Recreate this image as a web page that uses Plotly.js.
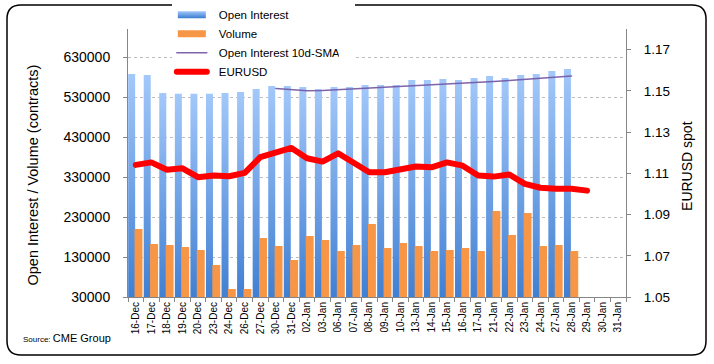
<!DOCTYPE html>
<html>
<head>
<meta charset="utf-8">
<script src="https://cdn.plot.ly/plotly-3.0.1.min.js"></script>
<style>
  html, body { margin: 0; padding: 0; background: #fff; }
  #chart { width: 714px; height: 364px; }
</style>
</head>
<body>
<div id="chart"></div>
<script>
// ---- data ----
const dates = ['16-Dec','17-Dec','18-Dec','19-Dec','20-Dec','23-Dec','24-Dec','26-Dec','27-Dec','30-Dec','31-Dec',
  '02-Jan','03-Jan','06-Jan','07-Jan','08-Jan','09-Jan','10-Jan','13-Jan','14-Jan','15-Jan','16-Jan','17-Jan',
  '21-Jan','22-Jan','23-Jan','24-Jan','27-Jan','28-Jan','29-Jan','30-Jan','31-Jan'];

const openInterest = [587500, 585000, 540000, 538000, 538000, 538000, 540000, 542500, 550000, 557500, 557500,
  555000, 550000, 555000, 555000, 560000, 560000, 560000, 572500, 572500, 575000, 572500, 577500,
  582500, 577500, 585000, 587500, 595000, 600000];

const volume = [200000, 162500, 160000, 155000, 147500, 110000, 50000, 50000, 177500, 157500, 122500,
  182500, 172500, 145000, 160000, 212500, 152500, 165000, 157500, 145000, 147500, 152500, 145000,
  245000, 185000, 240000, 157500, 160000, 145000];

const smaDates = dates.slice(9, 29);
const oiSma10 = [551500, 548500, 545500, 546500, 548500, 550000, 552000, 554000, 556000, 558000,
  560000, 561500, 563000, 566000, 568500, 571000, 573500, 576000, 579500, 582500];

const eurusd = [1.1141, 1.1153, 1.1117, 1.1124, 1.1081, 1.1089, 1.1086, 1.1102, 1.1178, 1.1202, 1.1223,
  1.1173, 1.1157, 1.1197, 1.1153, 1.1105, 1.1105, 1.1121, 1.1133, 1.1129, 1.1153, 1.1137, 1.1089,
  1.1084, 1.1094, 1.1049, 1.1030, 1.1025, 1.1025, 1.1016];

// ---- traces ----
const data = [
  {
    type: 'bar', name: 'Open Interest',
    x: dates.slice(0, openInterest.length), y: openInterest,
    marker: { color: '#78A8EA' }, offset: -0.49, width: 0.45,
    hoverinfo: 'skip'
  },
  {
    type: 'bar', name: 'Volume',
    x: dates.slice(0, volume.length), y: volume,
    marker: { color: '#F79646' }, offset: -0.08, width: 0.51,
    hoverinfo: 'skip'
  },
  {
    type: 'scatter', mode: 'lines', name: 'Open Interest 10d-SMA',
    x: smaDates, y: oiSma10,
    line: { color: 'rgba(118,92,168,0.95)', width: 1.5 },
    hoverinfo: 'skip'
  },
  {
    type: 'scatter', mode: 'lines', name: 'EURUSD',
    x: dates.slice(0, eurusd.length), y: eurusd, yaxis: 'y2',
    line: { color: '#FF0000', width: 6 },
    hoverinfo: 'skip'
  }
];

const axisGrey = '#868686';

const layout = {
  width: 714, height: 364,
  margin: { l: 128, r: 88, t: 29, b: 67, autoexpand: false },
  paper_bgcolor: '#ffffff', plot_bgcolor: '#ffffff',
  font: { family: 'Liberation Sans, Arial, sans-serif', color: '#000', size: 12 },
  barmode: 'overlay',
  showlegend: true,
  legend: {
    x: 0.088, y: 1.1075, xanchor: 'left', yanchor: 'top',
    bgcolor: '#ffffff', borderwidth: 0,
    font: { size: 11.5, color: '#000' },
    traceorder: 'normal', itemwidth: 30
  },
  xaxis: {
    type: 'category', categoryorder: 'array', categoryarray: dates,
    range: [-0.5, dates.length - 0.5],
    tickangle: -90, tickfont: { size: 10 },
    showline: true, linecolor: axisGrey, linewidth: 1,
    ticks: 'outside', ticklen: 4, tickcolor: axisGrey, tickson: 'boundaries',
    showgrid: false, zeroline: false, automargin: false, fixedrange: true
  },
  yaxis: {
    range: [30000, 700000], tick0: 30000, dtick: 100000, tickformat: 'd',
    tickfont: { size: 14 },
    showline: true, linecolor: axisGrey, linewidth: 1,
    ticks: 'outside', ticklen: 4, tickcolor: axisGrey, ticklabelstandoff: 10,
    showgrid: true, gridcolor: '#BDBDBD', gridwidth: 1, griddash: '3px,3px',
    zeroline: false, automargin: false, fixedrange: true
  },
  yaxis2: {
    overlaying: 'y', side: 'right', anchor: 'x',
    range: [1.05, 1.18], tick0: 1.05, dtick: 0.02, tickformat: '.2f',
    tickfont: { size: 13.5 },
    showline: true, linecolor: axisGrey, linewidth: 1,
    ticks: 'outside', ticklen: 4, tickcolor: axisGrey, ticklabelstandoff: 10,
    showgrid: false, zeroline: false, automargin: false, fixedrange: true
  },
  annotations: [
    {
      text: 'Open Interest / Volume (contracts)', textangle: -90,
      xref: 'paper', yref: 'paper', x: -0.1908, y: 0.457,
      xanchor: 'center', yanchor: 'middle', showarrow: false,
      font: { size: 14.5, color: '#000' }
    },
    {
      text: 'EURUSD spot', textangle: -90,
      xref: 'paper', yref: 'paper', x: 1.1225, y: 0.489,
      xanchor: 'center', yanchor: 'middle', showarrow: false,
      font: { size: 14, color: '#000' }
    },
    {
      text: 'Source: <span style="font-size:11px">CME Group</span>',
      xref: 'paper', yref: 'paper', x: -0.2149, y: -0.153,
      xanchor: 'left', yanchor: 'middle', showarrow: false,
      font: { size: 8, color: '#000' }
    }
  ],
  shapes: [
    {
      type: 'path', xref: 'paper', yref: 'paper', layer: 'above',
      path: 'M-0.21486,1.08955 L1.13253,1.08955 Q1.16064,1.08955 1.16064,1.03731 L1.16064,-0.16418 Q1.16064,-0.21642 1.13253,-0.21642 L-0.21486,-0.21642 Q-0.24297,-0.21642 -0.24297,-0.16418 L-0.24297,1.03731 Q-0.24297,1.08955 -0.21486,1.08955 Z',
      line: { color: '#000000', width: 1.5 }, fillcolor: 'rgba(0,0,0,0)'
    }
  ]
};

const gd = document.getElementById('chart');
let legendShifted = false;

function decorate() {
  const ns = 'http://www.w3.org/2000/svg';
  const svg = gd.querySelector('svg.main-svg');
  if (!document.getElementById('oiGrad')) {
    let defs = svg.querySelector('defs');
    if (!defs) { defs = document.createElementNS(ns, 'defs'); svg.insertBefore(defs, svg.firstChild); }
    const lg = document.createElementNS(ns, 'linearGradient');
    lg.setAttribute('id', 'oiGrad');
    lg.setAttribute('x1', '0'); lg.setAttribute('y1', '0');
    lg.setAttribute('x2', '0'); lg.setAttribute('y2', '1');
    [['0', '#A3C8FA'], ['1', '#3B7BD0']].forEach(function (s) {
      const st = document.createElementNS(ns, 'stop');
      st.setAttribute('offset', s[0]); st.setAttribute('stop-color', s[1]);
      lg.appendChild(st);
    });
    defs.appendChild(lg);
  }
  const barTraces = gd.querySelectorAll('.barlayer .trace');
  if (barTraces[0]) barTraces[0].querySelectorAll('path').forEach(function (p) { p.style.fill = 'url(#oiGrad)'; });

  gd.querySelectorAll('g.legendpoints path').forEach(function (p) {
    const d = p.getAttribute('d') || '';
    if (d.indexOf('M6,6') === 0 || d.indexOf('M14,3.5') === 0) {
      p.setAttribute('d', 'M14,3.5H-14V-3.5H14Z');
      const fill = (p.style.fill || '').replace(/\s/g, '');
      if (fill.indexOf('120,168,234') >= 0) p.style.fill = 'url(#oiGrad)';
    }
  });
  gd.querySelectorAll('path.js-line').forEach(function (p) {
    p.style.strokeLinecap = 'round'; p.style.strokeLinejoin = 'round';
  });
  if (!legendShifted) {
    const texts = gd.querySelectorAll('.legend text.legendtext');
    if (texts.length) {
      texts.forEach(function (t) {
        const x = parseFloat(t.getAttribute('x') || '40');
        t.setAttribute('x', String(x + 7));
      });
      const bg = gd.querySelector('.legend rect.bg');
      if (bg) bg.setAttribute('width', String(parseFloat(bg.getAttribute('width')) + 16));
      legendShifted = true;
    }
  }
}

Plotly.newPlot(gd, data, layout, { staticPlot: true, displayModeBar: false }).then(function () {
  decorate();
  setTimeout(decorate, 0);
  setTimeout(decorate, 100);
});
</script>
</body>
</html>
